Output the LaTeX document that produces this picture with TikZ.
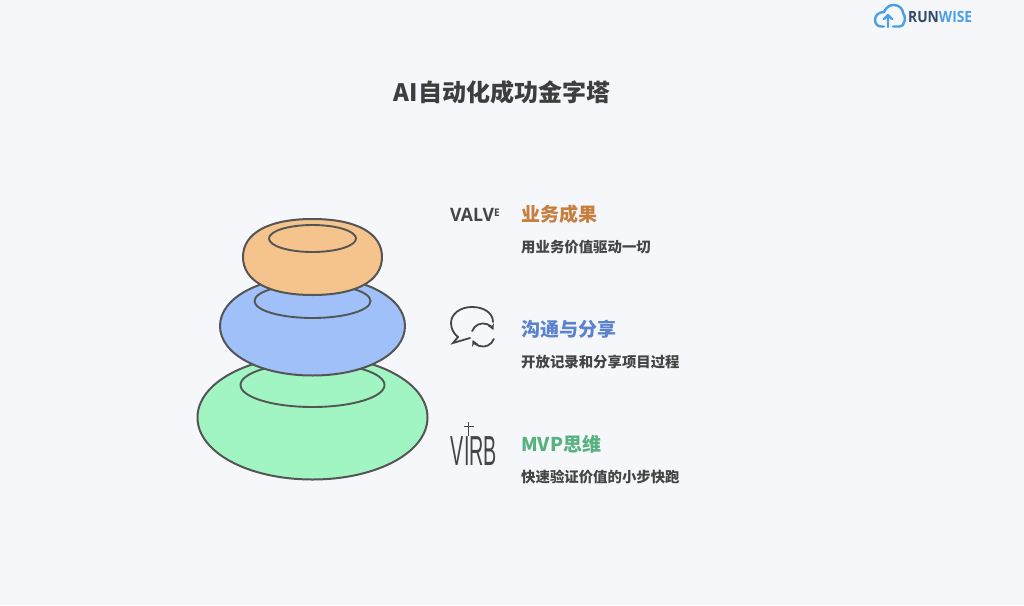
\documentclass[tikz,border=0pt]{standalone}
\usepackage{fontspec}
\usetikzlibrary{arrows.meta}
\setmainfont{Open Sans}
\newfontfamily\cjk{Noto Sans CJK SC}
\newfontfamily\logofont{Liberation Sans}
\definecolor{pagebg}{HTML}{F6F7FA}
\definecolor{stoneline}{HTML}{555555}
\definecolor{stonegreen}{HTML}{A0F5C2}
\definecolor{stoneblue}{HTML}{A0C0FA}
\definecolor{stoneorange}{HTML}{F5C48C}
\definecolor{headorange}{HTML}{C67F3C}
\definecolor{headblue}{HTML}{5B82CF}
\definecolor{headgreen}{HTML}{57B27F}
\definecolor{bodytext}{HTML}{454545}
\definecolor{logoblue}{HTML}{4A9FE8}
\definecolor{logodark}{HTML}{2F4A6B}
\tikzset{
  stone/.style={draw=stoneline,line width=2pt},
  hole/.style={draw=stoneline,line width=1.9pt},
  headtext/.style={anchor=west,inner sep=0pt,font=\cjk\bfseries\fontsize{19}{19}\selectfont},
  bodylabel/.style={anchor=west,inner sep=0pt,text=bodytext,font=\cjk\bfseries\fontsize{14.4}{15}\selectfont},
  iconline/.style={draw=bodytext,line width=1.8pt,line cap=round},
}
\begin{document}
\begin{tikzpicture}[x=1pt,y=-1pt]
  \useasboundingbox[fill=pagebg] (0,0) rectangle (1024,605);

  \foreach \cx/\cy/\rx/\ry/\k/\col/\iy/\irx/\iry in {
    312.5/417.5/115/62/0.56/stonegreen/385/72/22,
    312.5/326/92.5/49.5/0.57/stoneblue/301/58/17,
    312.5/257/69.5/38/0.63/stoneorange/238.5/43.5/13.5} {
    \draw[stone,fill=\col] (\cx-\rx,\cy)
      .. controls (\cx-\rx,\cy-\k*\ry) and (\cx-\k*\rx,\cy-\ry) .. (\cx,\cy-\ry)
      .. controls (\cx+\k*\rx,\cy-\ry) and (\cx+\rx,\cy-\k*\ry) .. (\cx+\rx,\cy)
      .. controls (\cx+\rx,\cy+\k*\ry) and (\cx+\k*\rx,\cy+\ry) .. (\cx,\cy+\ry)
      .. controls (\cx-\k*\rx,\cy+\ry) and (\cx-\rx,\cy+\k*\ry) .. cycle;
    \draw[hole] (\cx,\iy) ellipse [x radius=\irx,y radius=\iry];
  }

  \node[inner sep=0pt,font=\cjk\bfseries\fontsize{24}{25}\selectfont,text=bodytext!90!black] (title) at (502,92) {AI自动化成功金字塔};

  \node[headtext,text=headorange] (headtop) at (521,214) {业务成果};
  \node[bodylabel] (bodytop) at (521,247) {用业务价值驱动一切};
  \node[headtext,text=headblue] (headmid) at (521,329) {沟通与分享};
  \node[bodylabel] (bodymid) at (521,362) {开放记录和分享项目过程};
  \node[headtext,text=headgreen] (headlow) at (521,444) {MVP思维};
  \node[bodylabel] (bodylow) at (521,477) {快速验证价值的小步快跑};

  \node[anchor=west,inner sep=0pt,text=bodytext,font=\bfseries\fontsize{18.5}{19}\selectfont,xscale=0.95] (valve) at (450,214.5) {VALV\raisebox{4.5pt}{\fontsize{10.5}{11}\selectfont E}};

  \draw[iconline] (493,322) .. controls (493,313) and (484,307) .. (472,307)
    .. controls (460,307) and (451,314) .. (451,323)
    .. controls (451,329) and (454,334) .. (458,337)
    -- (453,343) -- (470,338);
  \draw[iconline,-{Stealth[length=6pt,width=6.5pt]}] (472.2,331) arc [start angle=200,end angle=335,radius=11.5];
  \draw[iconline,-{Stealth[length=6pt,width=6.5pt]}] (493.8,339) arc [start angle=20,end angle=155,radius=11.5];

  \node[inner sep=0pt,text=bodytext,font=\logofont\fontsize{42}{42}\selectfont,xscale=0.47,anchor=base] (virb) at (474,465) {VIRB};
  \draw[iconline,line width=1.6pt,line cap=butt] (468.5,422) -- (468.5,436) (463.5,426.5) -- (473.5,426.5);

  \draw[draw=logoblue,line width=2.4pt,line cap=round,line join=round] (884,26.5) -- (881,26.5)
    .. controls (877,26.5) and (875,23) .. (875,20)
    .. controls (875,15) and (879,12) .. (884,12)
    .. controls (886,7) and (890,5) .. (894,5)
    .. controls (899,5) and (903,9) .. (903,13)
    .. controls (906,15) and (906,26.5) .. (899,26.5) -- (893,26.5);
  \draw[draw=logoblue,line width=2.4pt,line cap=round,line join=round] (888,27) -- (888,16) (884,19) -- (888,15) -- (892,19);
  \node[anchor=west,inner sep=0pt,font=\bfseries\fontsize{15.5}{16}\selectfont,xscale=0.89] (logo) at (908,17) {\textcolor{logodark}{RUN}\textcolor{logoblue}{WISE}};
\end{tikzpicture}
\end{document}
